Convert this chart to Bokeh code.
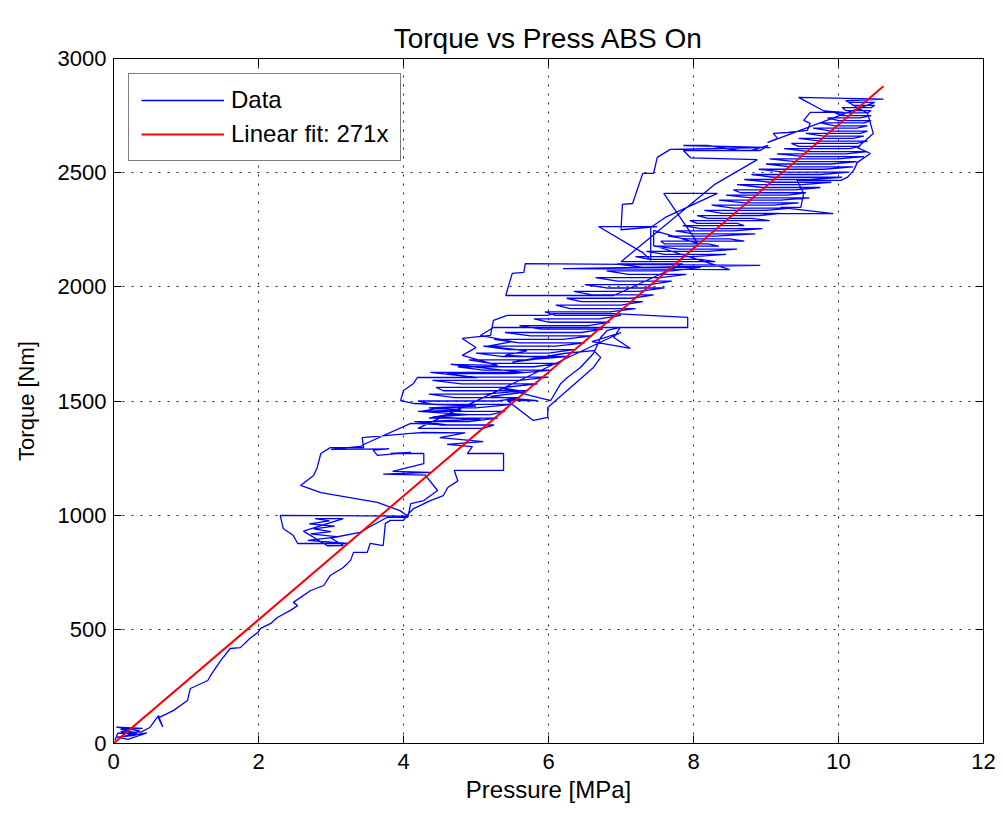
from bokeh.plotting import figure
from bokeh.models import LinearAxis, Range1d, FixedTicker, Legend
from bokeh.embed import file_html
from bokeh.resources import INLINE

# ---- data (pressure [MPa], torque [Nm]) ----
seg_origin = [(0.02, 15), (0.06, 45), (0.32, 45), (0.10, 62), (0.40, 66), (0.04, 72),
              (0.36, 55), (0.14, 30), (0.46, 46), (0.20, 18), (0.05, 28), (0.30, 36),
              (0.10, 52), (0.38, 50), (0.50, 70), (0.62, 122), (0.68, 72), (0.62, 112)]

seg_ramp = [(0.83, 145), (1.02, 188), (1.06, 241), (1.30, 276), (1.34, 298), (1.48, 364),
            (1.61, 416), (1.75, 420), (1.88, 460), (1.99, 486), (2.03, 504), (2.17, 526),
            (2.26, 552), (2.44, 583), (2.54, 604), (2.48, 618), (2.72, 670), (2.90, 692),
            (2.99, 736), (3.17, 771), (3.27, 802), (3.31, 837), (3.50, 837), (3.54, 876),
            (3.72, 867), (3.75, 964), (3.82, 977), (4.00, 977), (4.07, 1007), (4.14, 1029),
            (4.37, 1064), (4.55, 1086), (4.61, 1121)]

seg_mid_right = [(4.75, 1150), (4.70, 1196), (5.38, 1196), (5.38, 1270), (4.88, 1270),
                 (4.95, 1300), (4.60, 1310), (5.10, 1322), (4.50, 1340), (4.85, 1360),
                 (4.28, 1362)]

seg_left_loop = [(4.10, 1358), (3.43, 1340), (3.45, 1296), (2.99, 1296), (2.86, 1270),
                 (2.81, 1209), (2.76, 1174), (2.58, 1130), (2.86, 1099), (3.64, 1056),
                 (3.95, 1020), (4.06, 996), (2.30, 999), (2.34, 942), (2.48, 911),
                 (2.54, 876), (3.24, 876), (2.68, 890), (3.10, 905), (2.72, 918),
                 (3.00, 928), (2.76, 940), (3.05, 952), (2.70, 962), (2.98, 975),
                 (2.78, 985), (3.17, 985), (2.62, 930), (2.95, 866), (3.17, 867),
                 (3.00, 900), (3.40, 925), (3.77, 990), (4.06, 990), (4.10, 1051),
                 (4.28, 1064), (4.47, 1108)]

seg_low_blob = [(4.30, 1175), (3.72, 1180), (4.37, 1187), (3.85, 1192), (4.28, 1226),
                (4.28, 1270), (3.82, 1270), (4.10, 1275), (3.64, 1262), (3.58, 1285),
                (3.80, 1290), (3.00, 1288), (3.41, 1301), (3.48, 1314), (4.10, 1402)]

seg_mid_blob = [(4.60, 1395), (4.25, 1410), (5.06, 1420), (4.40, 1430), (4.90, 1440),
                (4.20, 1455), (4.80, 1460), (4.35, 1470), (5.00, 1478), (4.15, 1489),
                (3.96, 1502), (4.00, 1546), (4.14, 1577), (4.19, 1603), (5.02, 1603),
                (4.37, 1625), (5.66, 1625), (4.65, 1660), (5.30, 1656), (4.81, 1700),
                (5.00, 1734), (4.81, 1774), (5.20, 1787), (5.24, 1853), (5.43, 1875),
                (5.99, 1875), (6.07, 1883), (6.90, 1883), (7.92, 1866), (7.92, 1822),
                (5.24, 1822), (5.06, 1787)]

seg_mid_right2 = [(5.50, 1760), (5.16, 1740), (5.70, 1720), (5.40, 1700), (6.00, 1690),
                  (5.50, 1670), (6.21, 1708), (6.62, 1721), (6.72, 1691), (6.62, 1647),
                  (6.21, 1533), (5.99, 1472), (5.99, 1428), (5.79, 1415), (5.43, 1502),
                  (5.85, 1502), (5.20, 1520), (5.70, 1540), (5.30, 1560), (6.03, 1502),
                  (6.17, 1577), (6.26, 1603), (6.44, 1647), (6.62, 1708), (6.72, 1778),
                  (6.81, 1809), (6.99, 1822), (6.90, 1778), (7.13, 1730), (6.60, 1760),
                  (7.00, 1800)]

seg_band_mid = [(4.20, 1380), (5.10, 1380), (5.25, 1395), (4.50, 1395), (4.15, 1410),
                (4.90, 1410), (5.30, 1425), (4.35, 1425), (4.60, 1440), (5.20, 1440),
                (5.40, 1455), (4.25, 1455), (4.50, 1470), (5.00, 1470), (5.50, 1485),
                (4.40, 1485), (4.20, 1500), (5.30, 1500), (5.60, 1515), (4.70, 1515),
                (4.35, 1530), (5.10, 1530), (5.70, 1545), (4.55, 1545), (4.45, 1560),
                (5.40, 1560), (5.85, 1575), (4.80, 1575), (4.40, 1590), (5.60, 1590),
                (6.00, 1605), (4.95, 1605), (4.60, 1620), (5.50, 1620), (6.05, 1635),
                (5.10, 1635), (4.75, 1650), (5.80, 1650), (6.15, 1665), (5.20, 1665),
                (4.90, 1680), (5.70, 1680), (6.30, 1695), (5.35, 1695), (5.00, 1710),
                (6.00, 1710), (6.35, 1725), (5.45, 1725), (5.10, 1740), (6.10, 1740),
                (6.50, 1755), (5.60, 1755), (5.25, 1770), (6.20, 1770), (6.60, 1785),
                (5.75, 1785), (5.40, 1800), (6.45, 1800), (6.75, 1815), (5.90, 1815),
                (5.60, 1830), (6.55, 1830), (6.85, 1845), (6.00, 1845), (5.80, 1860),
                (6.70, 1860), (7.00, 1875), (6.10, 1875), (5.95, 1890), (6.85, 1890),
                (7.20, 1905), (6.30, 1905), (6.10, 1920), (7.00, 1920), (7.30, 1935),
                (6.45, 1935), (6.25, 1950), (7.15, 1950), (7.45, 1965), (6.60, 1965),
                (6.35, 1980), (7.25, 1980), (7.60, 1995), (6.80, 1995), (6.50, 2010),
                (7.40, 2010), (7.70, 2025), (6.95, 2025), (6.65, 2040), (7.55, 2040),
                (7.90, 2055), (7.10, 2055), (6.80, 2070), (7.70, 2070), (8.10, 2085),
                (7.30, 2085), (6.95, 2100), (7.85, 2100)]

seg_2000 = [(6.90, 1962), (5.41, 1962), (5.50, 2059), (5.66, 2063), (5.68, 2102),
            (8.92, 2094), (6.20, 2080), (8.50, 2075), (7.45, 2181), (7.45, 2247),
            (8.06, 2190), (7.59, 2409), (8.33, 2409), (7.61, 2304), (7.41, 2260),
            (7.41, 2116), (7.30, 2150), (6.69, 2264), (7.50, 2264), (7.00, 2250),
            (7.02, 2361), (7.16, 2365), (7.30, 2497), (7.45, 2497), (7.50, 2567),
            (7.68, 2602), (9.06, 2610), (7.86, 2619), (8.19, 2619), (8.65, 2597),
            (8.79, 2597), (9.03, 2619), (8.92, 2597), (7.86, 2597), (7.96, 2565),
            (8.88, 2557), (8.30, 2450)]

seg_band_upper = [(7.00, 2110), (8.30, 2110), (8.10, 2120), (7.40, 2120), (7.20, 2132),
                  (8.00, 2132), (8.45, 2142), (7.60, 2142), (7.35, 2155), (8.20, 2155),
                  (8.60, 2165), (7.80, 2165), (7.45, 2178), (8.35, 2178), (8.20, 2188),
                  (7.60, 2188), (7.55, 2200), (8.70, 2200), (8.50, 2210), (7.90, 2210),
                  (7.65, 2222), (8.30, 2222), (8.85, 2232), (8.00, 2232), (7.75, 2245),
                  (8.55, 2245), (8.95, 2255), (8.10, 2255), (7.85, 2268), (8.70, 2268),
                  (8.60, 2278), (8.05, 2278), (7.95, 2290), (9.05, 2290), (8.80, 2300),
                  (8.20, 2300), (8.05, 2312), (8.90, 2312), (9.20, 2322), (8.40, 2322),
                  (8.15, 2335), (9.00, 2335), (9.35, 2345), (8.55, 2345), (8.25, 2358),
                  (9.10, 2358), (9.45, 2368), (8.70, 2368), (8.35, 2380), (9.20, 2380),
                  (9.60, 2390), (8.80, 2390), (8.45, 2402), (9.30, 2402), (9.55, 2412),
                  (8.65, 2412), (8.55, 2425), (9.40, 2425), (9.75, 2435), (8.95, 2435),
                  (8.60, 2448), (9.50, 2448), (9.90, 2458), (9.05, 2458), (8.70, 2470),
                  (9.60, 2470), (10.05, 2480), (9.10, 2480), (8.80, 2492), (9.75, 2492),
                  (10.15, 2502), (9.25, 2502), (8.90, 2515), (9.80, 2515), (10.20, 2525),
                  (9.35, 2525), (9.00, 2538), (9.90, 2538), (10.25, 2548), (9.40, 2548),
                  (9.05, 2560), (10.00, 2560), (10.35, 2570), (9.55, 2570), (9.15, 2582),
                  (10.10, 2582), (10.40, 2592), (9.60, 2592), (9.25, 2605), (10.15, 2605),
                  (10.30, 2615), (9.45, 2615), (9.35, 2628), (10.25, 2628), (10.40, 2638),
                  (9.75, 2638), (9.45, 2650), (10.20, 2650), (10.35, 2660), (9.80, 2660),
                  (9.55, 2672), (10.30, 2672), (10.40, 2682), (9.90, 2682), (9.65, 2695),
                  (10.25, 2695), (10.40, 2705), (9.95, 2705), (9.75, 2718), (10.35, 2718),
                  (10.45, 2728), (10.00, 2728), (9.85, 2740), (10.30, 2740), (10.45, 2750),
                  (10.05, 2750), (9.95, 2762), (10.40, 2762), (10.45, 2772), (10.10, 2772),
                  (10.05, 2785), (10.45, 2785), (10.50, 2795), (10.20, 2795), (10.15, 2808),
                  (10.50, 2808)]

seg_top_outline = [(9.02, 2632), (9.16, 2650), (9.10, 2672), (9.30, 2676), (9.57, 2685),
                   (9.61, 2716), (9.52, 2729), (9.61, 2764), (10.07, 2764), (9.80, 2770),
                   (9.45, 2830), (10.62, 2822), (10.10, 2815), (10.40, 2760), (10.48, 2672),
                   (10.26, 2610), (10.44, 2584), (10.26, 2545), (10.21, 2510), (10.12, 2479),
                   (10.03, 2466), (9.43, 2466), (9.52, 2409), (9.48, 2348), (9.20, 2348),
                   (9.93, 2321), (8.65, 2321)]

fit_slope = 271
fit_pressure = [0.0, 10.62]
fit_torque = [fit_slope * x for x in fit_pressure]

x_ticks = [0, 2, 4, 6, 8, 10, 12]
y_ticks = [0, 500, 1000, 1500, 2000, 2500, 3000]

path = (seg_origin + seg_ramp + seg_mid_right + seg_left_loop + seg_low_blob +
        seg_mid_blob + seg_mid_right2 + seg_band_mid + seg_2000 + seg_band_upper +
        seg_top_outline)
pressure = [pt[0] for pt in path]
torque = [pt[1] for pt in path]

FONT = "Liberation Sans"

p = figure(width=1002, height=814, x_range=Range1d(0, 12), y_range=Range1d(0, 3000),
           output_backend="svg", toolbar_location=None,
           min_border_left=113, min_border_right=19, min_border_top=58, min_border_bottom=71,
           title="Torque vs Press ABS On")

p.background_fill_color = "white"
p.border_fill_color = "white"
p.outline_line_color = "black"
p.outline_line_width = 1

p.title.align = "center"
p.title.text_font = FONT
p.title.text_font_size = "28px"
p.title.text_font_style = "normal"
p.title.text_color = "black"

for ax in (p.xaxis[0], p.yaxis[0]):
    ax.major_tick_in = 8
    ax.major_tick_out = 0
    ax.minor_tick_line_color = None
    ax.axis_line_color = "black"
    ax.major_tick_line_color = "black"
    ax.major_label_text_font = FONT
    ax.major_label_text_font_size = "22px"
    ax.major_label_text_color = "black"
    ax.axis_label_text_font = FONT
    ax.axis_label_text_font_style = "normal"
    ax.axis_label_text_color = "black"

p.xaxis[0].ticker = FixedTicker(ticks=x_ticks)
p.yaxis[0].ticker = FixedTicker(ticks=y_ticks)
p.xaxis[0].axis_label = "Pressure [MPa]"
p.yaxis[0].axis_label = "Torque [Nm]"
p.xaxis[0].axis_label_text_font_size = "24px"
p.yaxis[0].axis_label_text_font_size = "22px"
p.xaxis[0].major_label_standoff = 10
p.yaxis[0].major_label_standoff = 7
p.xaxis[0].axis_label_standoff = 4
p.yaxis[0].axis_label_standoff = 16

top_ax = LinearAxis(ticker=FixedTicker(ticks=x_ticks), major_tick_in=8, major_tick_out=0,
                    minor_tick_line_color=None, major_label_text_font_size="1px",
                    major_label_text_color=None,
                    axis_line_color="black", major_label_standoff=0)
right_ax = LinearAxis(ticker=FixedTicker(ticks=y_ticks), major_tick_in=8, major_tick_out=0,
                      minor_tick_line_color=None, major_label_text_font_size="1px",
                      major_label_text_color=None,
                      axis_line_color="black", major_label_standoff=0)
p.add_layout(top_ax, "above")
p.add_layout(right_ax, "right")

for g in (p.xgrid[0], p.ygrid[0]):
    g.grid_line_color = "#222222"
    g.grid_line_dash = "2 7"
    g.grid_line_width = 1
p.xgrid[0].ticker = FixedTicker(ticks=x_ticks)
p.ygrid[0].ticker = FixedTicker(ticks=y_ticks)

r_data = p.line(pressure, torque, line_color="#0000ff", line_width=1.3)
r_fit = p.line(fit_pressure, fit_torque, line_color="#ff0000", line_width=2)

legend = Legend(items=[("Data", [r_data]), ("Linear fit: 271x", [r_fit])],
                location="top_left")
legend.border_line_color = "black"
legend.border_line_width = 1
legend.background_fill_color = "white"
legend.background_fill_alpha = 1
legend.label_text_font = FONT
legend.label_text_font_size = "24px"
legend.label_text_color = "black"
legend.glyph_width = 83
legend.glyph_height = 20
legend.label_height = 20
legend.label_standoff = 7
legend.spacing = 6
legend.padding = 12
legend.margin = 15
p.add_layout(legend)

open("out.html", "w").write(file_html(p, INLINE))
